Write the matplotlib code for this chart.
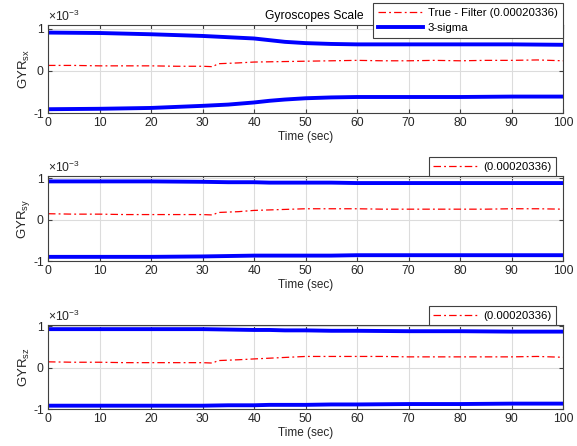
import matplotlib
matplotlib.use("Agg")
import matplotlib.pyplot as plt

plt.rcParams['font.family'] = ['Liberation Sans', 'DejaVu Sans']
plt.rcParams['mathtext.fontset'] = 'custom'
plt.rcParams['mathtext.rm'] = 'Liberation Sans'
plt.rcParams['mathtext.it'] = 'Liberation Sans'

# sigma envelope sample times (sec) and values (x1e-3)
t_sig = [0, 10, 20, 30, 35, 40, 43, 46, 50, 55, 60, 70, 80, 90, 100]
sx_up = [0.91, 0.90, 0.87, 0.83, 0.80, 0.77, 0.73, 0.69, 0.66, 0.64, 0.63, 0.63, 0.63, 0.63, 0.62]
sx_lo = [-0.91, -0.90, -0.88, -0.83, -0.80, -0.75, -0.71, -0.68, -0.65, -0.63, -0.62, -0.62, -0.62, -0.61, -0.61]
sy_up = [0.92, 0.92, 0.92, 0.91, 0.90, 0.90, 0.89, 0.89, 0.89, 0.89, 0.88, 0.88, 0.88, 0.88, 0.88]
sy_lo = [-0.90, -0.90, -0.90, -0.89, -0.88, -0.87, -0.87, -0.87, -0.87, -0.87, -0.86, -0.86, -0.86, -0.86, -0.86]
sz_up = [0.93, 0.93, 0.93, 0.93, 0.92, 0.91, 0.91, 0.90, 0.90, 0.89, 0.89, 0.88, 0.88, 0.87, 0.87]
sz_lo = [-0.92, -0.92, -0.92, -0.92, -0.91, -0.91, -0.90, -0.90, -0.90, -0.89, -0.89, -0.88, -0.88, -0.87, -0.87]

# true - filter error (x1e-3)
t_err = [0, 5, 10, 15, 20, 25, 30, 32, 33, 35, 37, 40, 45, 50, 55, 60, 65, 70, 75, 80, 85, 90, 95, 100]
sx_err = [0.13, 0.13, 0.12, 0.12, 0.12, 0.11, 0.11, 0.10, 0.17, 0.18, 0.19, 0.21, 0.22, 0.23, 0.24, 0.25,
          0.24, 0.24, 0.25, 0.24, 0.25, 0.25, 0.26, 0.24]
sy_err = [0.14, 0.13, 0.13, 0.12, 0.12, 0.12, 0.12, 0.11, 0.17, 0.18, 0.19, 0.22, 0.24, 0.26, 0.26, 0.26,
          0.25, 0.25, 0.25, 0.25, 0.25, 0.26, 0.26, 0.25]
sz_err = [0.14, 0.13, 0.13, 0.12, 0.12, 0.12, 0.12, 0.11, 0.17, 0.18, 0.19, 0.21, 0.24, 0.27, 0.27, 0.27,
          0.27, 0.26, 0.26, 0.26, 0.26, 0.26, 0.27, 0.25]

labels = ["sx", "sy", "sz"]
err_text = "(0.00020336)"

panels = [(sx_up, sx_lo, sx_err), (sy_up, sy_lo, sy_err), (sz_up, sz_lo, sz_err)]
# axes boxes in pixels: (top, bottom), plus y upper limit
boxes = [(25, 113, 1.09), (176, 261, 1.05), (325, 409, 1.03)]
W, H = 577, 446
left, right = 48, 563

fig = plt.figure(figsize=(W / 100, H / 100), dpi=100)
frame = '#404040'
txt = '#262626'
dash = (6, 2.5, 1.5, 2.5)

for i, ((up, lo, err), (top, bot, ymax)) in enumerate(zip(panels, boxes)):
    ax = fig.add_axes([left / W, 1 - bot / H, (right - left) / W, (bot - top) / H])
    l1, = ax.plot(t_err, err, color='red', ls='-.', lw=0.9, dashes=dash)
    l2, = ax.plot(t_sig, up, color='blue', lw=2.8)
    ax.plot(t_sig, lo, color='blue', lw=2.8)
    ax.set_xlim(0, 100)
    ax.set_ylim(-1, ymax)
    ax.set_xticks(range(0, 101, 10))
    ax.set_yticks([-1, 0, 1])
    ax.set_yticklabels(['-1', '0', '1'])
    ax.grid(True, color='#dcdcdc', lw=0.8)
    ax.set_axisbelow(True)
    ax.tick_params(direction='in', top=True, right=True, length=3, labelsize=8.7,
                   colors=frame, labelcolor=txt, pad=3)
    for s in ax.spines.values():
        s.set_color(frame)
        s.set_linewidth(0.8)
    ax.set_xlabel('Time (sec)', fontsize=8.5, color=txt, labelpad=1)
    ax.set_ylabel('GYR$_{\\rm %s}$' % labels[i], fontsize=9.5, color=txt, labelpad=1)
    ax.text(0.0, 1.01, '×10$^{-3}$', transform=ax.transAxes, fontsize=8.7, color=txt,
            ha='left', va='bottom')
    if i == 0:
        ax.text(0.517, 1.1, 'Gyroscopes Scale', transform=ax.transAxes, fontsize=8.7,
                color='black', ha='center', va='center')
        leg = ax.legend([l1, l2], ['True - Filter ' + err_text, '3-sigma'],
                        loc='upper right', bbox_to_anchor=(563 / W, 1 - 3 / H),
                        bbox_transform=fig.transFigure, fontsize=8.2, frameon=True,
                        fancybox=False, borderpad=0.45, labelspacing=0.45,
                        handlelength=4.0, handletextpad=0.4, borderaxespad=0)
    else:
        ltop = 157 if i == 1 else 306
        leg = ax.legend([l1], [err_text], loc='upper right',
                        bbox_to_anchor=(556 / W, 1 - ltop / H),
                        bbox_transform=fig.transFigure, fontsize=8.2, frameon=True,
                        fancybox=False, borderpad=0.4, handlelength=4.0,
                        handletextpad=0.4, borderaxespad=0)
    leg.get_frame().set_edgecolor(frame)
    leg.get_frame().set_linewidth(0.8)
    leg.get_frame().set_alpha(1)

fig.savefig('out.png', dpi=100)
